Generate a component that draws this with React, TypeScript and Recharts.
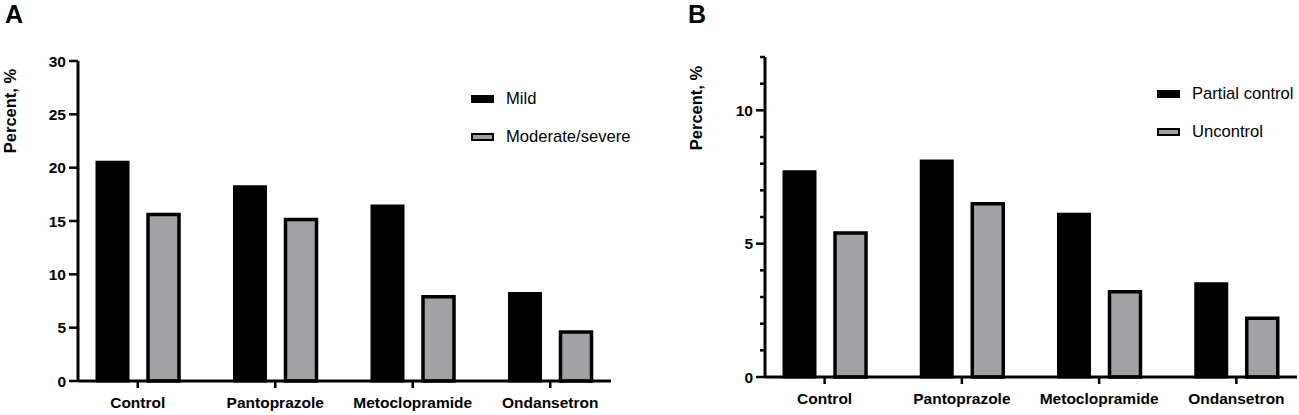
import React from 'react'
import { BarChart, Bar, XAxis, YAxis } from 'recharts'

const categories = ['Control', 'Pantoprazole', 'Metoclopramide', 'Ondansetron']

// panel A
const mildValues = [20.5, 18.2, 16.4, 8.2]
const moderateValues = [15.6, 15.15, 7.9, 4.6]
const ticksA = [0, 5, 10, 15, 20, 25, 30]

// panel B
const partialValues = [7.7, 8.1, 6.1, 3.5]
const uncontrolValues = [5.4, 6.5, 3.2, 2.2]
const ticksB = [0, 1, 2, 3, 4, 5, 6, 7, 8, 9, 10, 11, 12]
const majorB = [0, 5, 10]

const FONT = '"Liberation Sans", Arial, Helvetica, sans-serif'
const GRAY = '#a2a2a6'

const dataA = categories.map((name, i) => ({ name, mild: mildValues[i], moderate: moderateValues[i] }))
const dataB = categories.map((name, i) => ({ name, partial: partialValues[i], uncontrol: uncontrolValues[i] }))

function LegendBox({ items, left, top }: { items: { label: string; fill: string }[]; left: number; top: number }) {
  return (
    <div style={{ position: 'absolute', left, top, fontFamily: FONT, fontSize: 16.6, color: '#000' }}>
      {items.map((it) => (
        <div key={it.label} style={{ display: 'flex', alignItems: 'center', height: 38 }}>
          <div style={{ width: 23, height: 8, background: it.fill, border: '2px solid #000', boxSizing: 'border-box', marginRight: 12 }} />
          <span>{it.label}</span>
        </div>
      ))}
    </div>
  )
}

const yTickA = (props: any) => {
  const { x, y, payload } = props
  return (
    <g>
      <line x1={x - 9} x2={x} y1={y} y2={y} stroke="#000" strokeWidth={2.5} />
      <text x={x - 12} y={y} textAnchor="end" dominantBaseline="central" fontFamily={FONT} fontSize={15.5} fontWeight={700} fill="#000">
        {payload.value}
      </text>
    </g>
  )
}

const yTickB = (props: any) => {
  const { x, y, payload } = props
  const major = majorB.includes(payload.value)
  return (
    <g>
      <line x1={x - (major ? 9 : 5)} x2={x} y1={y} y2={y} stroke="#000" strokeWidth={2.5} />
      {major && (
        <text x={x - 12} y={y} textAnchor="end" dominantBaseline="central" fontFamily={FONT} fontSize={15.5} fontWeight={700} fill="#000">
          {payload.value}
        </text>
      )}
    </g>
  )
}

const xTickStyle = { fill: '#000', fontSize: 15.5, fontWeight: 700, fontFamily: FONT }

const yLabel = (cx: number, cy: number) => () => (
  <text x={cx} y={cy} transform={`rotate(-90 ${cx} ${cy})`} textAnchor="middle" dominantBaseline="central" fontFamily={FONT} fontSize={16.5} fontWeight={700} fill="#000">
    Percent, %
  </text>
)

export default function App() {
  return (
    <div style={{ position: 'absolute', left: 0, top: 0, width: 1299, height: 415, background: '#fff', overflow: 'hidden' }}>
      <div style={{ position: 'absolute', left: 5, top: 0, fontFamily: FONT, fontSize: 25, fontWeight: 700 }}>A</div>
      <div style={{ position: 'absolute', left: 688, top: 0, fontFamily: FONT, fontSize: 25, fontWeight: 700 }}>B</div>

      <div style={{ position: 'absolute', left: 0, top: 0 }}>
        <BarChart width={640} height={415} data={dataA} margin={{ top: 61, right: 29, bottom: 0, left: 0 }} barSize={31} barGap={20}>
          <XAxis dataKey="name" height={34} padding={{ left: -9, right: -8 }} axisLine={{ stroke: '#000', strokeWidth: 3 }} tickLine={{ stroke: '#000', strokeWidth: 2.5 }} tickSize={7} tickMargin={9} tick={xTickStyle} interval={0} />
          <YAxis width={78} domain={[0, 30]} ticks={ticksA} interval={0} axisLine={{ stroke: '#000', strokeWidth: 3 }} tickLine={false} tickSize={0} tickMargin={0} tick={yTickA} label={{ content: yLabel(10, 111) }} />
          <Bar dataKey="mild" name="Mild" fill="#000" stroke="#000" strokeWidth={3} isAnimationActive={false} />
          <Bar dataKey="moderate" name="Moderate/severe" fill={GRAY} stroke="#000" strokeWidth={3.5} isAnimationActive={false} />
        </BarChart>
        <LegendBox left={471} top={80} items={[{ label: 'Mild', fill: '#000' }, { label: 'Moderate/severe', fill: GRAY }]} />
      </div>

      <div style={{ position: 'absolute', left: 680, top: 0 }}>
        <BarChart width={619} height={415} data={dataB} margin={{ top: 57, right: 2, bottom: 0, left: 0 }} barSize={31} barGap={20}>
          <XAxis dataKey="name" height={38} padding={{ left: -9, right: -8 }} axisLine={{ stroke: '#000', strokeWidth: 3 }} tickLine={{ stroke: '#000', strokeWidth: 2.5 }} tickSize={7} tickMargin={9} tick={xTickStyle} interval={0} />
          <YAxis width={85} domain={[0, 12]} ticks={ticksB} interval={0} axisLine={{ stroke: '#000', strokeWidth: 3 }} tickLine={false} tickSize={0} tickMargin={0} tick={yTickB} label={{ content: yLabel(16, 108) }} />
          <Bar dataKey="partial" name="Partial control" fill="#000" stroke="#000" strokeWidth={3} isAnimationActive={false} />
          <Bar dataKey="uncontrol" name="Uncontrol" fill={GRAY} stroke="#000" strokeWidth={3.5} isAnimationActive={false} />
        </BarChart>
        <LegendBox left={477} top={75} items={[{ label: 'Partial control', fill: '#000' }, { label: 'Uncontrol', fill: GRAY }]} />
      </div>
    </div>
  )
}
